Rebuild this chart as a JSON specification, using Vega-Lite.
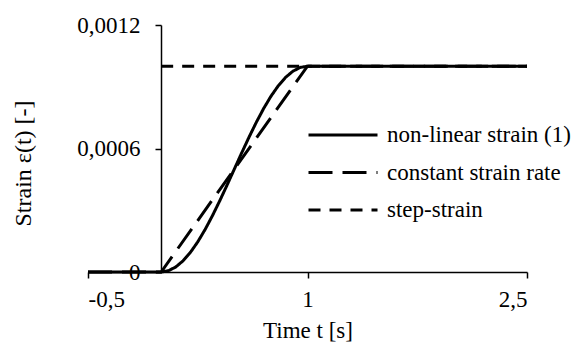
{
  "$schema": "https://vega.github.io/schema/vega-lite/v6.json",
  "width": 439,
  "height": 247,
  "autosize": {"type": "none"},
  "padding": {"left": 88, "top": 25, "right": 49, "bottom": 80},
  "background": "white",
  "config": {
    "view": {"stroke": null},
    "font": "Liberation Serif",
    "axis": {
      "domainColor": "black",
      "domainWidth": 1.5,
      "tickColor": "black",
      "tickWidth": 1.5,
      "tickSize": 6,
      "grid": false,
      "labelFont": "Liberation Serif",
      "labelFontSize": 23,
      "labelColor": "black",
      "titleFont": "Liberation Serif",
      "titleFontSize": 23,
      "titleFontWeight": "normal",
      "titleColor": "black"
    },
    "legend": {
      "labelFont": "Liberation Serif"
    }
  },
  "data": {
    "values": [
      {"s": "non-linear strain (1)", "t": -0.5, "v": 0},
      {"s": "non-linear strain (1)", "t": 0, "v": 0},
      {"s": "non-linear strain (1)", "t": 0.05, "v": 0.0000062},
      {"s": "non-linear strain (1)", "t": 0.1, "v": 0.0000245},
      {"s": "non-linear strain (1)", "t": 0.15, "v": 0.0000545},
      {"s": "non-linear strain (1)", "t": 0.2, "v": 0.0000955},
      {"s": "non-linear strain (1)", "t": 0.25, "v": 0.0001464},
      {"s": "non-linear strain (1)", "t": 0.3, "v": 0.0002061},
      {"s": "non-linear strain (1)", "t": 0.35, "v": 0.000273},
      {"s": "non-linear strain (1)", "t": 0.4, "v": 0.0003455},
      {"s": "non-linear strain (1)", "t": 0.45, "v": 0.0004218},
      {"s": "non-linear strain (1)", "t": 0.5, "v": 0.0005},
      {"s": "non-linear strain (1)", "t": 0.55, "v": 0.0005782},
      {"s": "non-linear strain (1)", "t": 0.6, "v": 0.0006545},
      {"s": "non-linear strain (1)", "t": 0.65, "v": 0.000727},
      {"s": "non-linear strain (1)", "t": 0.7, "v": 0.0007939},
      {"s": "non-linear strain (1)", "t": 0.75, "v": 0.0008536},
      {"s": "non-linear strain (1)", "t": 0.8, "v": 0.0009045},
      {"s": "non-linear strain (1)", "t": 0.85, "v": 0.0009455},
      {"s": "non-linear strain (1)", "t": 0.9, "v": 0.0009755},
      {"s": "non-linear strain (1)", "t": 0.95, "v": 0.0009938},
      {"s": "non-linear strain (1)", "t": 1, "v": 0.001},
      {"s": "non-linear strain (1)", "t": 2.5, "v": 0.001},
      {"s": "constant strain rate", "t": -0.5, "v": 0},
      {"s": "constant strain rate", "t": 0, "v": 0},
      {"s": "constant strain rate", "t": 1, "v": 0.001},
      {"s": "constant strain rate", "t": 2.5, "v": 0.001},
      {"s": "step-strain", "t": 0, "v": 0.001},
      {"s": "step-strain", "t": 2.5, "v": 0.001}
    ]
  },
  "mark": {"type": "line", "strokeWidth": 3, "color": "black", "clip": false},
  "encoding": {
    "x": {
      "field": "t",
      "type": "quantitative",
      "scale": {"domain": [-0.5, 2.5], "nice": false, "zero": false},
      "axis": {
        "values": [-0.5, 1, 2.5],
        "title": "Time t [s]",
        "labelExpr": "replace(toString(datum.value), '.', ',')",
        "labelPadding": 10,
        "titlePadding": 8
      }
    },
    "y": {
      "field": "v",
      "type": "quantitative",
      "scale": {"domain": [0, 0.0012], "nice": false},
      "axis": {
        "values": [0, 0.0006, 0.0012],
        "offset": -73,
        "title": "Strain   ε(t) [-]",
        "titleFontSize": 24,
        "labelExpr": "replace(toString(datum.value), '.', ',')",
        "labelPadding": 15,
        "titleX": -126,
        "titleY": 138,
        "titleAlign": "center",
        "titleAngle": 270,
        "titleBaseline": "bottom"
      }
    },
    "strokeDash": {
      "field": "s",
      "type": "nominal",
      "scale": {
        "domain": ["non-linear strain (1)", "constant strain rate", "step-strain"],
        "range": [[1, 0], [24, 10], [12, 9]]
      },
      "legend": {
        "orient": "none",
        "legendX": 242,
        "legendY": 97,
        "title": null,
        "symbolType": "M-3,0H3",
        "symbolSize": 529,
        "symbolStrokeWidth": 3,
        "symbolStrokeColor": "black",
        "labelFont": "Liberation Serif",
        "labelFontSize": 23,
        "labelColor": "black",
        "labelOffset": 31,
        "labelLimit": 300,
        "rowPadding": 12.5,
        "padding": 0
      }
    }
  }
}
